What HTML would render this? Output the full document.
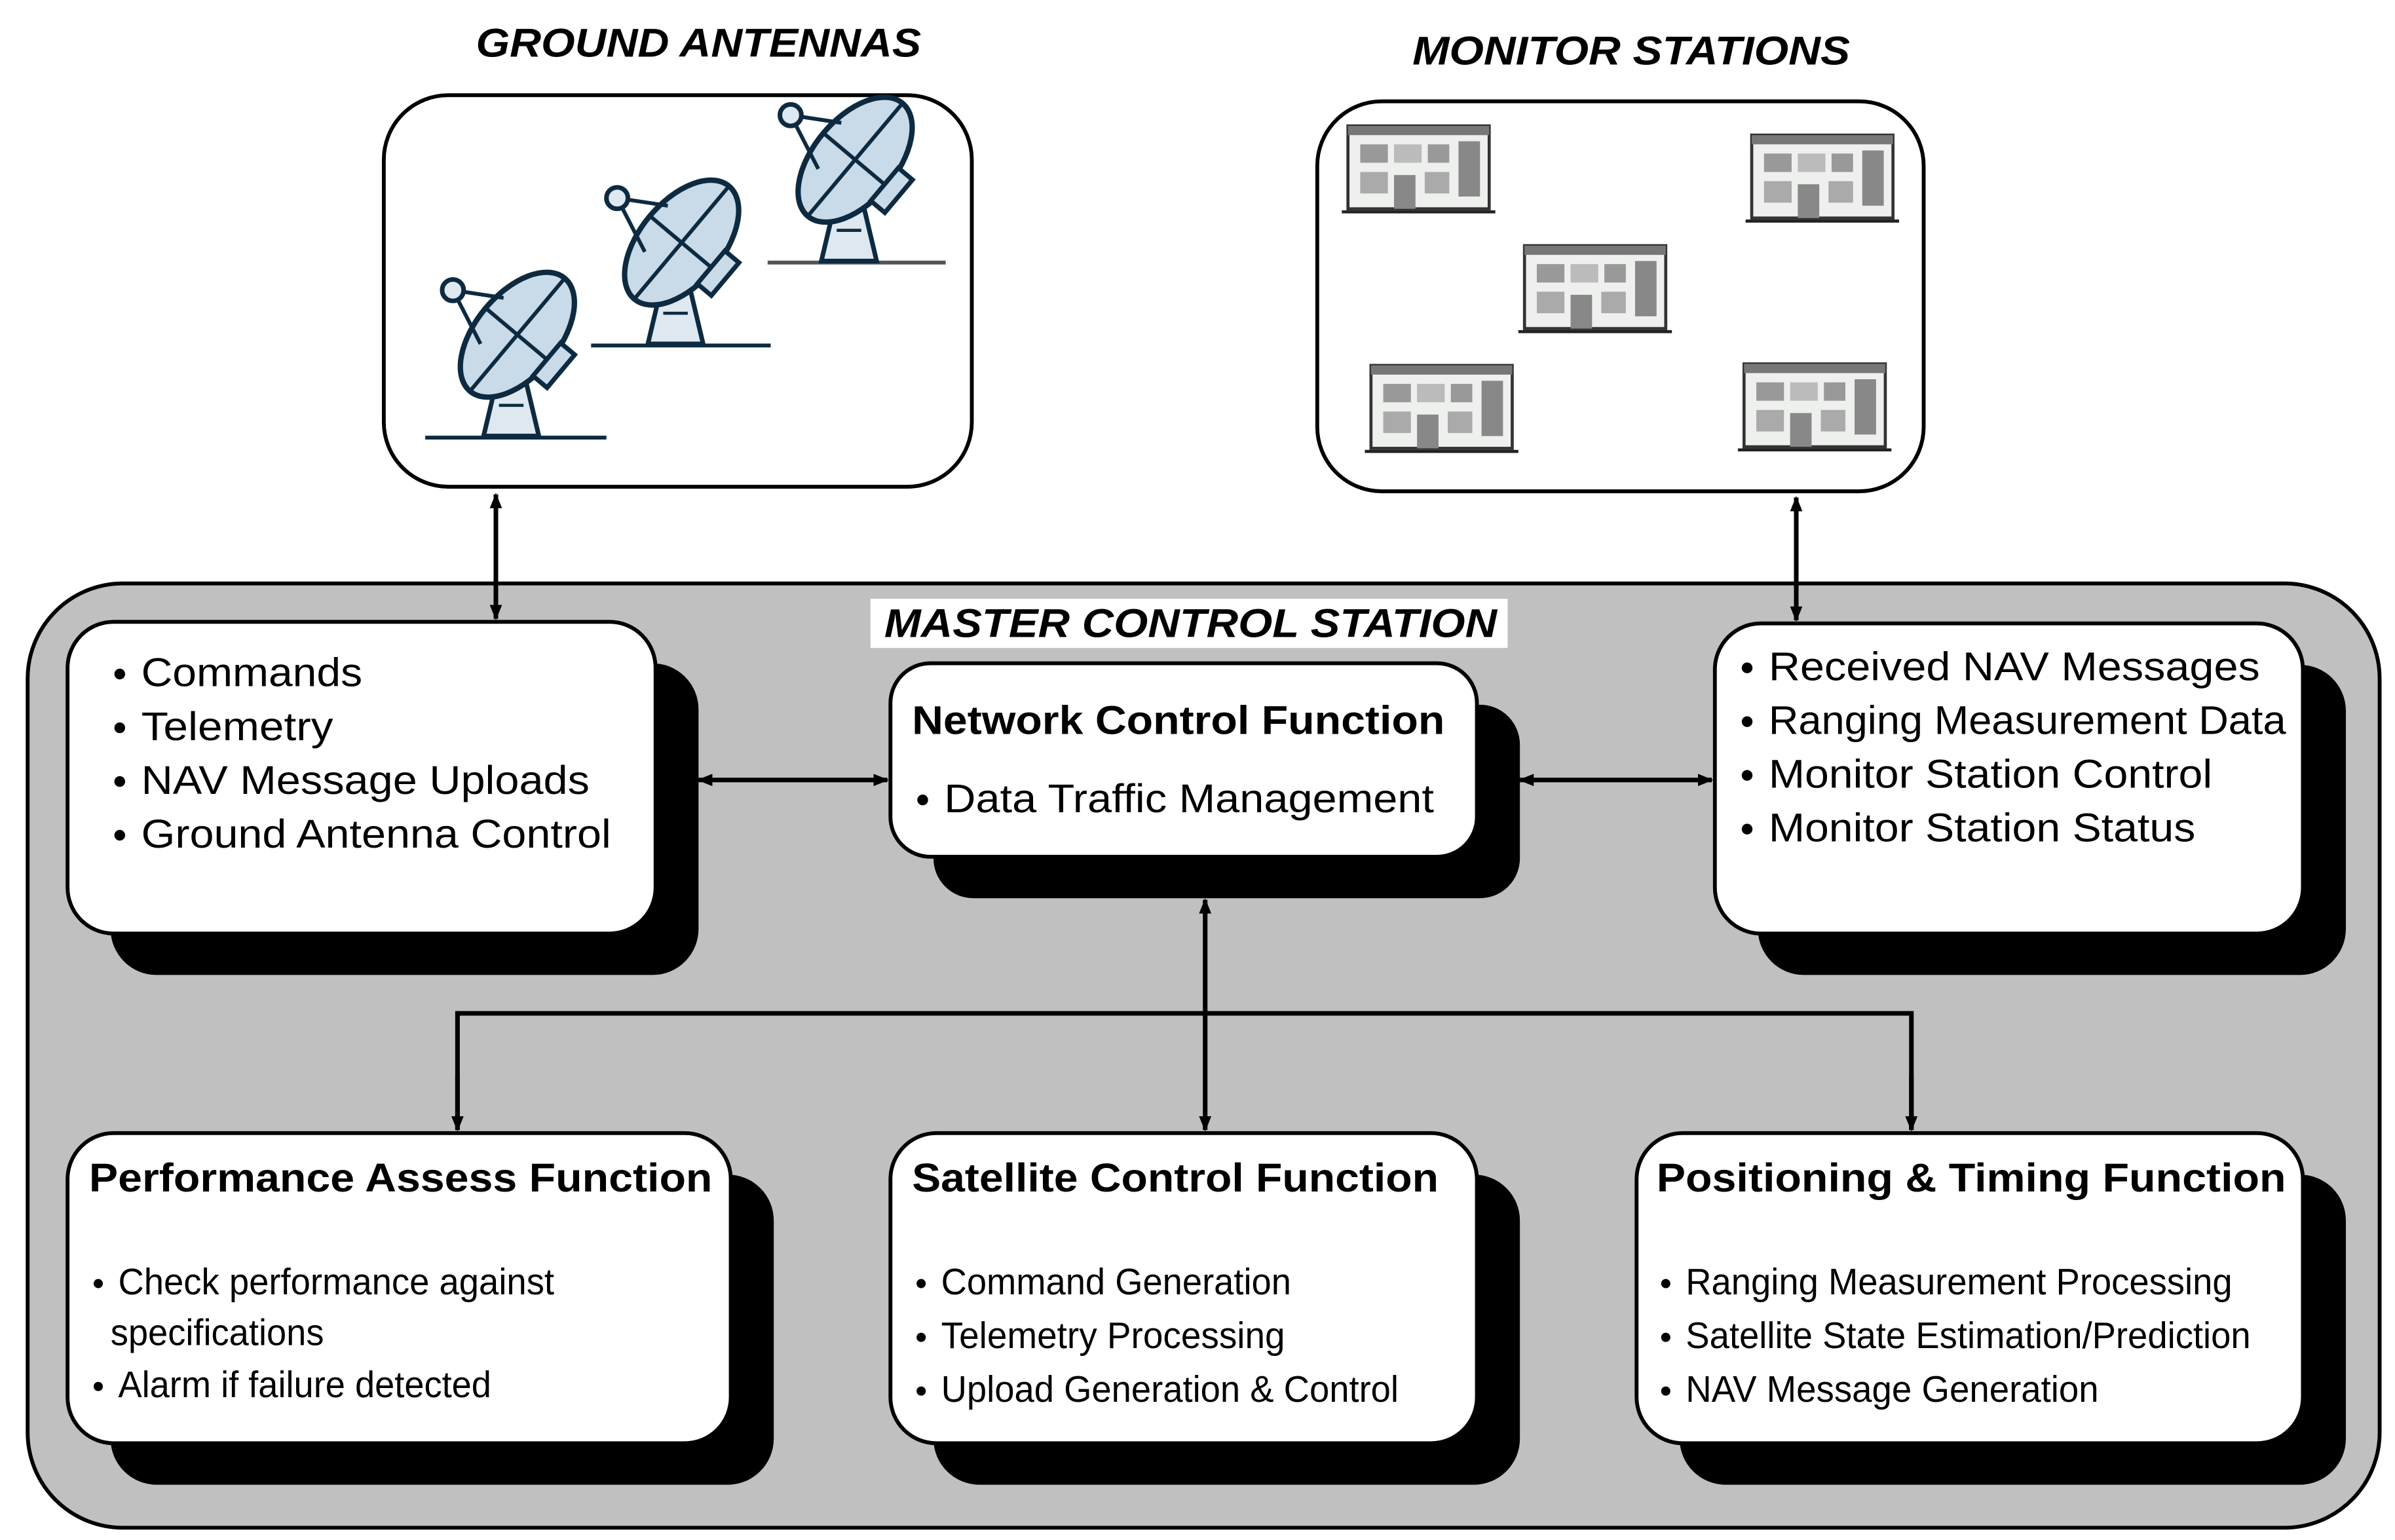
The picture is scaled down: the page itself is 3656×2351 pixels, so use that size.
<!DOCTYPE html>
<html><head><meta charset="utf-8"><style>
html,body{margin:0;padding:0;background:#fff;}
svg{display:block;}
text{font-family:"Liberation Sans",Arial,sans-serif;fill:#000;}
</style></head><body>
<svg width="3656" height="2351" viewBox="0 0 1560 1003" preserveAspectRatio="none" xmlns="http://www.w3.org/2000/svg">
<defs>
<marker id="ah" viewBox="0 0 10 10" refX="9" refY="5" markerWidth="12" markerHeight="10" orient="auto-start-reverse" markerUnits="userSpaceOnUse">
<path d="M0,1 L10,5 L0,9 z" fill="#000"/></marker>
<g id="ant">
<path d="M-18,0 L-9,-38 L9,-38 L18,0 Z" fill="#dde8f0" stroke="#0d2a40" stroke-width="3"/>
<line x1="-8" y1="-20" x2="8" y2="-20" stroke="#0d2a40" stroke-width="2"/>
<g transform="translate(4,-66) rotate(-50)">
<ellipse cx="0" cy="0" rx="48" ry="27" fill="#c9dbe8" stroke="#0d2a40" stroke-width="3.5"/>
<line x1="-48" y1="0" x2="48" y2="0" stroke="#0d2a40" stroke-width="2.5"/>
<line x1="0" y1="-27" x2="0" y2="27" stroke="#0d2a40" stroke-width="2.5"/>
<rect x="-14" y="25" width="28" height="12" fill="#c9dbe8" stroke="#0d2a40" stroke-width="3"/>
</g>
<line x1="-38" y1="-95" x2="-20" y2="-60" stroke="#0d2a40" stroke-width="2.5"/>
<line x1="-38" y1="-95" x2="-5" y2="-90" stroke="#0d2a40" stroke-width="2.5"/>
<circle cx="-38" cy="-95" r="7" fill="#dde8f0" stroke="#0d2a40" stroke-width="3"/>
</g>
<g id="bld">
<rect x="0" y="0" width="92" height="54" fill="#eef0ee" stroke="#333" stroke-width="2"/>
<rect x="0" y="0" width="92" height="6" fill="#777"/>
<rect x="8" y="12" width="18" height="12" fill="#999"/>
<rect x="30" y="12" width="18" height="12" fill="#bbb"/>
<rect x="52" y="12" width="14" height="12" fill="#999"/>
<rect x="72" y="10" width="14" height="36" fill="#888"/>
<rect x="8" y="30" width="18" height="14" fill="#aaa"/>
<rect x="30" y="32" width="14" height="22" fill="#888"/>
<rect x="50" y="30" width="16" height="14" fill="#aaa"/>
<line x1="-4" y1="56" x2="96" y2="56" stroke="#222" stroke-width="2"/>
</g>
</defs>

<text x="310" y="37" font-size="26" font-weight="bold" font-style="italic" textLength="290" lengthAdjust="spacingAndGlyphs">GROUND ANTENNAS</text>
<text x="920" y="42" font-size="26" font-weight="bold" font-style="italic" textLength="285" lengthAdjust="spacingAndGlyphs">MONITOR STATIONS</text>

<rect x="250" y="62" width="383" height="255" rx="42" fill="#fff" stroke="#000" stroke-width="2.5"/>
<rect x="858" y="66" width="395" height="254" rx="42" fill="#fff" stroke="#000" stroke-width="2.5"/>

<line x1="277" y1="285" x2="395" y2="285" stroke="#0d2a40" stroke-width="2.5"/>
<line x1="385" y1="225" x2="502" y2="225" stroke="#0d2a40" stroke-width="2.5"/>
<line x1="500" y1="171" x2="616" y2="171" stroke="#555" stroke-width="2.5"/>
<use href="#ant" transform="translate(333,284)"/>
<use href="#ant" transform="translate(440,224)"/>
<use href="#ant" transform="translate(553,170)"/>

<use href="#bld" transform="translate(878,82)"/>
<use href="#bld" transform="translate(1141,88)"/>
<use href="#bld" transform="translate(993,160)"/>
<use href="#bld" transform="translate(893,238)"/>
<use href="#bld" transform="translate(1136,237)"/>

<rect x="18" y="380" width="1532" height="615" rx="62" fill="#c0c0c0" stroke="#000" stroke-width="2.5"/>
<rect x="567" y="390" width="415" height="32" fill="#fff"/>
<text x="576" y="415" font-size="26" font-weight="bold" font-style="italic" textLength="399" lengthAdjust="spacingAndGlyphs">MASTER CONTROL STATION</text>

<g stroke="#000" stroke-width="3" fill="none">
<line x1="323" y1="322" x2="323" y2="403" marker-start="url(#ah)" marker-end="url(#ah)"/>
<line x1="1170" y1="324" x2="1170" y2="404" marker-start="url(#ah)" marker-end="url(#ah)"/>
<line x1="455" y1="508" x2="578" y2="508" marker-start="url(#ah)" marker-end="url(#ah)"/>
<line x1="990" y1="508" x2="1115" y2="508" marker-start="url(#ah)" marker-end="url(#ah)"/>
<line x1="785" y1="586" x2="785" y2="736" marker-start="url(#ah)" marker-end="url(#ah)"/>
<polyline points="298,736 298,660 1245,660 1245,736"/>
<line x1="298" y1="700" x2="298" y2="736" marker-end="url(#ah)"/>
<line x1="1245" y1="700" x2="1245" y2="736" marker-end="url(#ah)"/>
</g>

<g fill="#000">
<rect x="72" y="432" width="383" height="203" rx="30"/>
<rect x="608" y="459" width="382" height="126" rx="26"/>
<rect x="1145" y="433" width="383" height="202" rx="30"/>
<rect x="72" y="765" width="432" height="202" rx="30"/>
<rect x="608" y="765" width="382" height="202" rx="30"/>
<rect x="1094" y="765" width="434" height="202" rx="30"/>
</g>
<g fill="#fff" stroke="#000" stroke-width="2.5">
<rect x="44" y="405" width="383" height="203" rx="30"/>
<rect x="580" y="432" width="382" height="126" rx="26"/>
<rect x="1117" y="406" width="383" height="202" rx="30"/>
<rect x="44" y="738" width="432" height="202" rx="30"/>
<rect x="580" y="738" width="382" height="202" rx="30"/>
<rect x="1066" y="738" width="434" height="202" rx="30"/>
</g>

<g fill="#000">
<circle cx="78" cy="439" r="3.5"/><circle cx="78" cy="474" r="3.5"/><circle cx="78" cy="509" r="3.5"/><circle cx="78" cy="544" r="3.5"/>
<circle cx="601" cy="521" r="3.5"/>
<circle cx="1138" cy="435" r="3.5"/><circle cx="1138" cy="470" r="3.5"/><circle cx="1138" cy="505" r="3.5"/><circle cx="1138" cy="540" r="3.5"/>
<circle cx="64" cy="836" r="3"/><circle cx="64" cy="903" r="3"/>
<circle cx="600" cy="836" r="3"/><circle cx="600" cy="871" r="3"/><circle cx="600" cy="906" r="3"/>
<circle cx="1085" cy="836" r="3"/><circle cx="1085" cy="871" r="3"/><circle cx="1085" cy="906" r="3"/>
</g>

<g font-size="26" lengthAdjust="spacingAndGlyphs">
<text x="92" y="447" textLength="144" lengthAdjust="spacingAndGlyphs">Commands</text>
<text x="92" y="482" textLength="125" lengthAdjust="spacingAndGlyphs">Telemetry</text>
<text x="92" y="517" textLength="292" lengthAdjust="spacingAndGlyphs">NAV Message Uploads</text>
<text x="92" y="552" textLength="306" lengthAdjust="spacingAndGlyphs">Ground Antenna Control</text>
<text x="615" y="529" textLength="319" lengthAdjust="spacingAndGlyphs">Data Traffic Management</text>
<text x="1152" y="443" textLength="320" lengthAdjust="spacingAndGlyphs">Received NAV Messages</text>
<text x="1152" y="478" textLength="337" lengthAdjust="spacingAndGlyphs">Ranging Measurement Data</text>
<text x="1152" y="513" textLength="289" lengthAdjust="spacingAndGlyphs">Monitor Station Control</text>
<text x="1152" y="548" textLength="278" lengthAdjust="spacingAndGlyphs">Monitor Station Status</text>
</g>
<g font-size="26" font-weight="bold">
<text x="594" y="478" textLength="347" lengthAdjust="spacingAndGlyphs">Network Control Function</text>
<text x="58" y="776" textLength="406" lengthAdjust="spacingAndGlyphs">Performance Assess Function</text>
<text x="594" y="776" textLength="343" lengthAdjust="spacingAndGlyphs">Satellite Control Function</text>
<text x="1079" y="776" textLength="410" lengthAdjust="spacingAndGlyphs">Positioning &amp; Timing Function</text>
</g>
<g font-size="24">
<text x="77" y="843" textLength="284" lengthAdjust="spacingAndGlyphs">Check performance against</text>
<text x="72" y="876" textLength="139" lengthAdjust="spacingAndGlyphs">specifications</text>
<text x="77" y="910" textLength="243" lengthAdjust="spacingAndGlyphs">Alarm if failure detected</text>
<text x="613" y="843" textLength="228" lengthAdjust="spacingAndGlyphs">Command Generation</text>
<text x="613" y="878" textLength="224" lengthAdjust="spacingAndGlyphs">Telemetry Processing</text>
<text x="613" y="913" textLength="298" lengthAdjust="spacingAndGlyphs">Upload Generation &amp; Control</text>
<text x="1098" y="843" textLength="356" lengthAdjust="spacingAndGlyphs">Ranging Measurement Processing</text>
<text x="1098" y="878" textLength="368" lengthAdjust="spacingAndGlyphs">Satellite State Estimation/Prediction</text>
<text x="1098" y="913" textLength="269" lengthAdjust="spacingAndGlyphs">NAV Message Generation</text>
</g>
</svg>
</body></html>
